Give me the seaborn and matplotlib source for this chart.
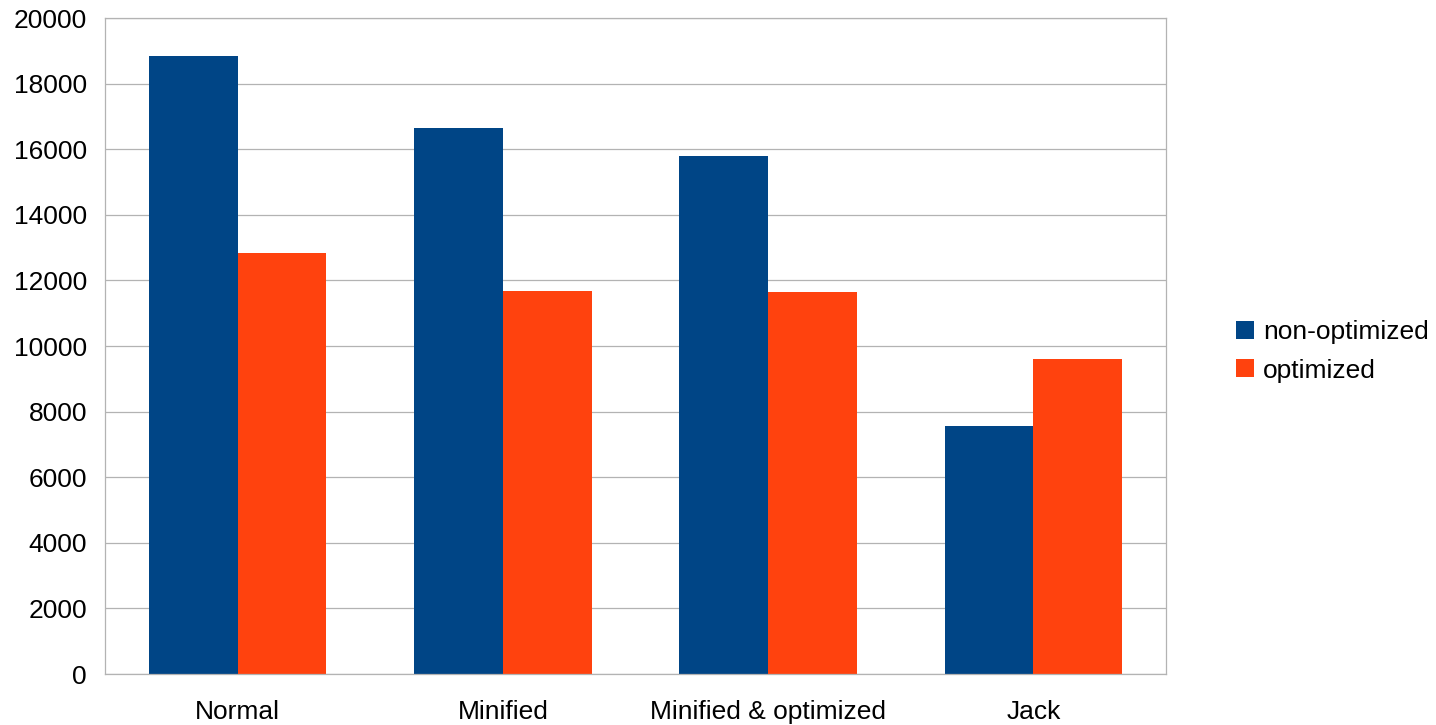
import matplotlib
matplotlib.use("Agg")
import matplotlib.pyplot as plt
import seaborn as sns
import pandas as pd
from matplotlib.patches import Patch
from matplotlib.ticker import FixedLocator

categories = ["Normal", "Minified", "Minified & optimized", "Jack"]
non_optimized = [18840, 16650, 15790, 7560]
optimized = [12845, 11680, 11650, 9605]
series_names = ["non-optimized", "optimized"]
y_ticks = [0, 2000, 4000, 6000, 8000, 10000, 12000, 14000, 16000, 18000, 20000]

colors = ["#004586", "#ff420e"]
grid_color = "#b3b3b3"
font_size = 19

df = pd.DataFrame({
    "category": categories * 2,
    "series": [series_names[0]] * len(categories) + [series_names[1]] * len(categories),
    "value": non_optimized + optimized,
})

sns.set_theme(style="white")
plt.rcParams["font.family"] = ["Liberation Sans", "DejaVu Sans"]
plt.rcParams["text.color"] = "black"

fig = plt.figure(figsize=(14.36, 7.25), dpi=100)
ax = fig.add_axes([105 / 1436, 1 - 674 / 725, (1166 - 105) / 1436, (674 - 18) / 725])

sns.barplot(data=df, x="category", y="value", hue="series", order=categories,
            hue_order=series_names, palette=colors, width=0.67, gap=0,
            saturation=1, linewidth=0, ax=ax, legend=False)

ax.set_xlim(-0.5, len(categories) - 0.5)
ax.set_ylim(0, 20000)
ax.set_yticks(y_ticks)
ax.set_yticklabels([str(t) for t in y_ticks], fontsize=font_size, color="black")
ax.yaxis.grid(True, color=grid_color, linewidth=0.9)
ax.set_axisbelow(True)

ax.set_xlabel("")
ax.set_ylabel("")
ax.set_xticks(range(len(categories)))
ax.set_xticklabels(categories, fontsize=font_size, color="black")
ax.tick_params(axis="x", which="major", length=0, pad=19)
ax.xaxis.set_minor_locator(FixedLocator([i - 0.5 for i in range(len(categories) + 1)]))
ax.tick_params(axis="x", which="minor", length=9, width=0.9, color=grid_color, direction="out")
ax.tick_params(axis="y", which="major", length=9, width=0.9, color=grid_color, direction="out", pad=4)

for side in ["left", "right", "top", "bottom"]:
    ax.spines[side].set_visible(True)
    ax.spines[side].set_color(grid_color)
    ax.spines[side].set_linewidth(0.9)

handles = [Patch(facecolor=c, edgecolor="none") for c in colors]
leg = ax.legend(handles, series_names, loc="center left", bbox_to_anchor=(1.066, 0.492),
                frameon=False, fontsize=font_size, handlelength=0.68, handleheight=0.68,
                handletextpad=0.35, labelspacing=0.55, borderpad=0, borderaxespad=0)
for t in leg.get_texts():
    t.set_color("black")

fig.savefig("out.png", dpi=100, facecolor="white")
